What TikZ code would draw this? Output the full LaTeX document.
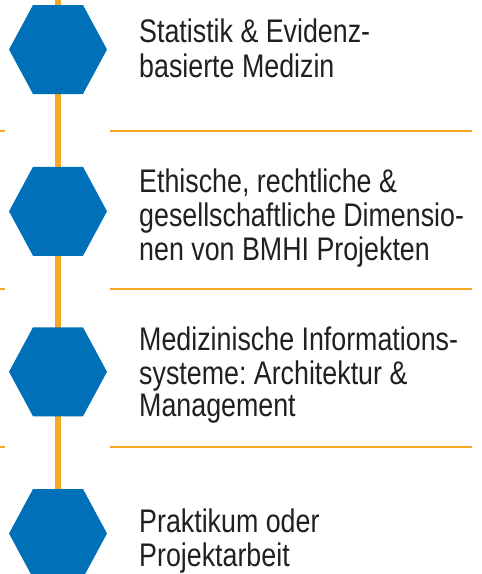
\documentclass[tikz,border=0pt]{standalone}
\usepackage{fontspec}
\setmainfont{Liberation Sans}[FakeStretch=0.82]
\definecolor{hexblue}{HTML}{0070B8}
\definecolor{lineorange}{HTML}{F7A823}
\definecolor{txt}{HTML}{231F20}
\frenchspacing
\begin{document}
\begin{tikzpicture}[x=1pt,y=-1pt,
  hexa/.style={fill=hexblue},
  spine/.style={draw=lineorange, line width=6pt},
  rule/.style={draw=lineorange, line width=1.4pt},
  itemtext/.style={anchor=base west, inner sep=0pt, text=txt, font=\fontsize{32.7}{34}\selectfont}]
\useasboundingbox (0,0) rectangle (482,574);
\coordinate (top) at (58,0);
\coordinate (h1) at (58,49.5);
\coordinate (h2) at (58,211.3);
\coordinate (h3) at (58,371.8);
\coordinate (h4) at (58,533.5);
\draw[spine] (top) -- (h4);
\foreach \i in {1,...,4}
  \path[hexa, shift={(h\i)}] (-49,0) -- (-25,-44.5) -- (25,-44.5) -- (49,0) -- (25,44.5) -- (-25,44.5) -- cycle;
\foreach \y in {130.8,289,447} {
  \draw[rule] (0,\y) -- (4.5,\y);
  \draw[rule] (110,\y) -- (472,\y);
}
\node[itemtext] (t1a) at (139,42.7) {Statistik \& Evidenz-};
\node[itemtext] (t1b) at (139,77.3) {basierte Medizin};
\node[itemtext] (t2a) at (139,192.7) {Ethische, rechtliche \&};
\node[itemtext] (t2b) at (139,226.5) {gesellschaftliche Dimensio-};
\node[itemtext] (t2c) at (139,260.7) {nen von BMHI Projekten};
\node[itemtext] (t3a) at (139,350) {Medizinische Informations-};
\node[itemtext] (t3b) at (139,384) {systeme: Architektur \&};
\node[itemtext] (t3c) at (139,416) {Management};
\node[itemtext] (t4a) at (139,532.7) {Praktikum oder};
\node[itemtext] (t4b) at (139,566.3) {Projektarbeit};
\end{tikzpicture}
\end{document}
